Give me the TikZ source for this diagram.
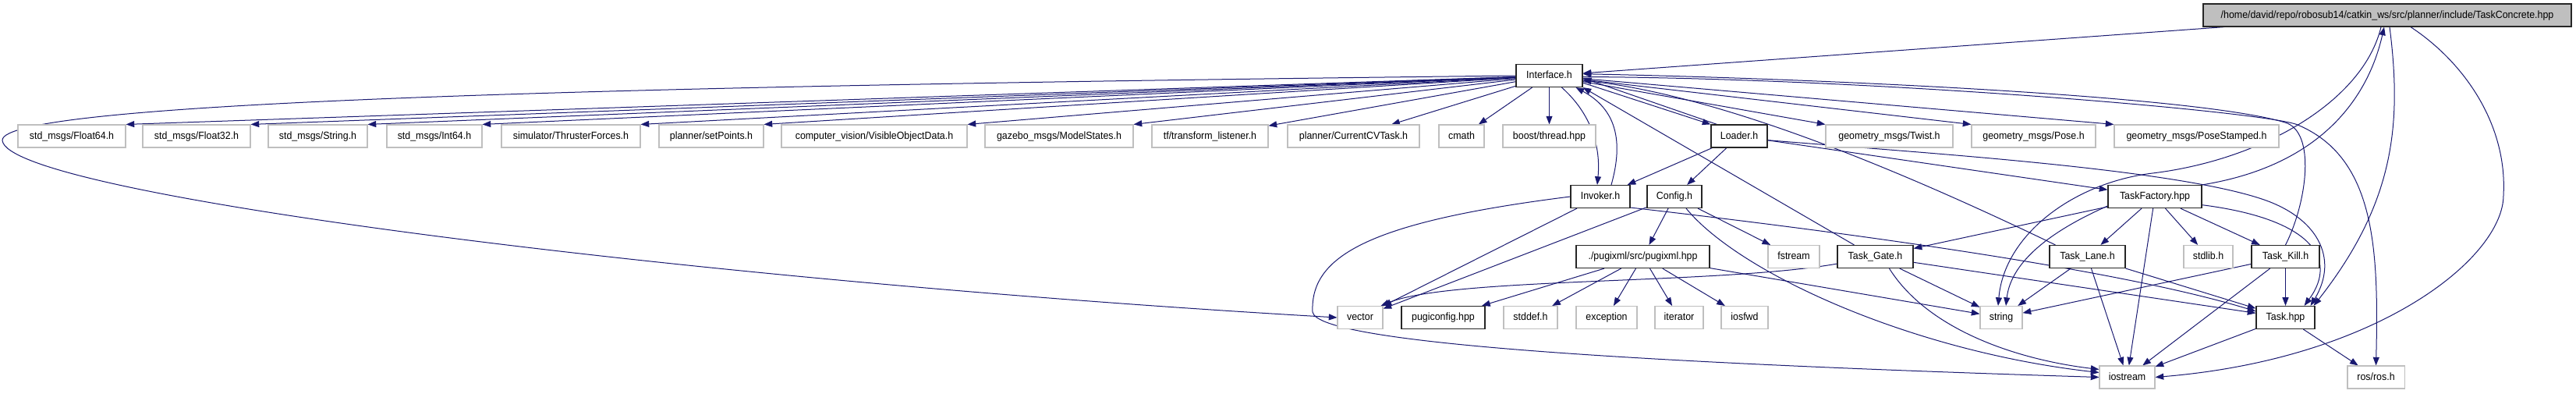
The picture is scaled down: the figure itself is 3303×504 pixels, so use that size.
\documentclass[tikz,border=0pt]{standalone}
\usepackage{fontspec}
\setmainfont{Liberation Sans}[FakeStretch=0.93]
\usetikzlibrary{arrows.meta,calc}
\definecolor{mblue}{HTML}{191970}
\pgfdeclarelayer{bg}
\pgfsetlayers{bg,main}
\tikzset{
  nbox/.style={rectangle, inner sep=0pt, minimum height=21.75pt, fill=white,
    font=\fontsize{10}{12}\selectfont, text height=7.3pt, text depth=2pt},
  ext/.style={nbox, draw=gray!50, line width=0.8pt},
  doc/.style={nbox, draw=black!85, line width=0.9pt},
  mainnode/.style={nbox, draw=black!85, line width=0.9pt, fill=gray!50},
  bw/.style={minimum width=#1*0.75pt},
  e/.style={draw=mblue, line width=0.75pt, -{Triangle[length=8pt,width=6pt]}},
}
\begin{document}
\begin{tikzpicture}[x=0.75pt,y=-0.75pt]
\useasboundingbox (0,0) rectangle (3303,504);
% row 0
\node[mainnode, bw=472] (TC) at (3061,19.5) {/home/david/repo/robosub14/catkin\_ws/src/planner/include/TaskConcrete.hpp};
% row 1
\node[doc, bw=85] (Interface) at (1986.5,97) {Interface.h};
% row 2
\node[ext, bw=138] (f64) at (92,174.5) {std\_msgs/Float64.h};
\node[ext, bw=138] (f32) at (252,174.5) {std\_msgs/Float32.h};
\node[ext, bw=127] (str) at (407.5,174.5) {std\_msgs/String.h};
\node[ext, bw=122] (i64) at (557,174.5) {std\_msgs/Int64.h};
\node[ext, bw=178] (thr) at (732,174.5) {simulator/ThrusterForces.h};
\node[ext, bw=134] (setp) at (912,174.5) {planner/setPoints.h};
\node[ext, bw=238] (vis) at (1121,174.5) {computer\_vision/VisibleObjectData.h};
\node[ext, bw=190] (model) at (1358,174.5) {gazebo\_msgs/ModelStates.h};
\node[ext, bw=149] (tf) at (1551.5,174.5) {tf/transform\_listener.h};
\node[ext, bw=169] (cv) at (1735.5,174.5) {planner/CurrentCVTask.h};
\node[ext, bw=58] (cmath) at (1874,174.5) {cmath};
\node[ext, bw=119] (boost) at (1986.5,174.5) {boost/thread.hpp};
\node[doc, bw=72] (Loader) at (2230,174.5) {Loader.h};
\node[ext, bw=163] (twist) at (2422.5,174.5) {geometry\_msgs/Twist.h};
\node[ext, bw=159] (pose) at (2607.5,174.5) {geometry\_msgs/Pose.h};
\node[ext, bw=211] (poses) at (2816.5,174.5) {geometry\_msgs/PoseStamped.h};
% row 3
\node[doc, bw=76] (invoker) at (2052,252) {Invoker.h};
\node[doc, bw=70] (config) at (2147,252) {Config.h};
\node[doc, bw=120] (tfac) at (2763,252) {TaskFactory.hpp};
% row 4
\node[doc, bw=171] (pugi) at (2106.5,329) {./pugixml/src/pugixml.hpp};
\node[ext, bw=66] (fstream) at (2300,329) {fstream};
\node[doc, bw=97] (gate) at (2404.5,329) {Task\_Gate.h};
\node[doc, bw=97] (lane) at (2676.5,329) {Task\_Lane.h};
\node[ext, bw=63] (stdlib) at (2831.5,329) {stdlib.h};
\node[doc, bw=87] (kill) at (2930.5,329) {Task\_Kill.h};
% row 5
\node[ext, bw=58] (vector) at (1744,407) {vector};
\node[doc, bw=107] (pcfg) at (1850.5,407) {pugiconfig.hpp};
\node[ext, bw=69] (stddef) at (1962.5,407) {stddef.h};
\node[ext, bw=78] (exc) at (2060,407) {exception};
\node[ext, bw=62] (iter) at (2153,407) {iterator};
\node[ext, bw=60] (iosfwd) at (2237,407) {iosfwd};
\node[ext, bw=54] (string) at (2566,407) {string};
\node[doc, bw=75] (task) at (2930.5,407) {Task.hpp};
% row 6
\node[ext, bw=71] (iostream) at (2727.5,483.5) {iostream};
\node[ext, bw=73] (ros) at (3046.5,483.5) {ros/ros.h};
% waypoints
\coordinate (wV) at (3,180);
\coordinate (wA) at (2946,160);
\coordinate (wB) at (2930,157);
\coordinate (wG) at (2900,255);
\coordinate (wI) at (1683,400);
\coordinate (wF) at (2760,222);
\coordinate (wD) at (3210,250);
\begin{pgfonlayer}{bg}
% Interface -> row 2
\foreach \t in {f64,f32,str,i64,thr,setp,vis,model}
  \draw[e] (Interface) -- (\t.north east);
\foreach \t in {tf,cv,cmath,boost}
  \draw[e] (Interface) -- (\t);
\foreach \t in {twist,pose,poses}
  \draw[e] (Interface) -- (\t.north west);
% Interface <-> Loader
\draw[e] (Interface.-12) -- (Loader.north west);
\draw[e] ($(Loader.north west)+(8,0)$) -- (Interface.-4);
% TC -> Interface
\draw[e] (TC) -- (Interface);
% Interface <-> Invoker
\draw[e] ($(Interface.south)+(16,0)$) .. controls (2045,150) and (2052,195) .. ($(invoker.north)+(-4,0)$);
\draw[e] ($(invoker.north)+(14,0)$) .. controls (2082,180) and (2072,140) .. ($(Interface.south)+(34,0)$);
% Interface -> vector
\draw[e] (Interface.west) .. controls (800,110) and (0,130) .. (wV) .. controls (10,250) and (900,360) .. (vector.west);
% Interface -> ros
\draw[e] (Interface.-2) .. controls (2400,100) and (2906,143) .. (wA) .. controls (3046,202) and (3050,320) .. (ros.north);
% Task_Kill -> Interface
\draw[e] (kill.north) .. controls (2958,260) and (2970,169) .. (wB) .. controls (2810,121) and (2300,100) .. (Interface.3);
% Task_Lane -> Interface
\draw[e] ($(lane.north west)+(8,0)$) .. controls (2420,210) and (2200,122) .. (Interface.-8);
% Task_Gate -> Interface
\draw[e] ($(gate.north west)+(22,0)$) -- (Interface.south east);
% Loader
\draw[e] (Loader) -- (invoker);
\draw[e] (Loader) -- (config);
\draw[e] (Loader) -- (tfac);
\draw[e] (Loader.-8) .. controls (2450,195) and (2780,215) .. (wG) .. controls (2970,278) and (3000,330) .. ($(task.north east)+(-6,0)$);
% Invoker
\draw[e] (invoker) -- (vector);
\draw[e] (invoker.-20) .. controls (2300,290) and (2700,340) .. ($(task.west)+(0,-8)$);
\draw[e] (invoker.west) .. controls (1750,285) and (1680,330) .. (wI) .. controls (1690,440) and (2100,465) .. (iostream.west);
% Config
\draw[e] (config) -- (pugi);
\draw[e] (config) -- (fstream);
\draw[e] (config) -- (vector);
\draw[e] ($(config.south)+(15,0)$) .. controls (2230,350) and (2450,450) .. ($(iostream.west)+(0,-6)$);
% pugixml
\foreach \t in {pcfg,stddef,exc,iter,iosfwd,string}
  \draw[e] (pugi) -- (\t);
% TaskFactory
\foreach \t in {gate,lane,stdlib,kill,iostream}
  \draw[e] (tfac) -- (\t);
\draw[e] ($(tfac.south west)+(2,-4)$) .. controls (2620,300) and (2578,340) .. ($(string.north)+(6,0)$);
\draw[e] (tfac.-10) .. controls (2960,280) and (3000,330) .. ($(task.north east)+(-14,0)$);
\draw[e] (tfac.north east) .. controls (2990,210) and (3040,110) .. ($(TC.south)+(-4,0)$);
% TaskConcrete
\draw[e] ($(TC.south)+(-8,0)$) .. controls (3030,130) and (2900,205) .. (wF) .. controls (2660,234) and (2570,300) .. ($(string.north)+(-4,0)$);
\draw[e] ($(TC.south)+(3,0)$) .. controls (3080,160) and (3070,260) .. ($(task.north east)+(-2,0)$);
\draw[e] ($(TC.south)+(30,0)$) .. controls (3160,80) and (3215,160) .. (wD) .. controls (3210,330) and (3050,460) .. (iostream.east);
% Task_Gate
\draw[e] (gate) -- (string);
\draw[e] (gate) -- (task);
\draw[e] ($(gate.south)+(18,0)$) .. controls (2470,420) and (2580,460) .. ($(iostream.west)+(0,-10)$);
\draw[e] ($(gate.south west)+(0,-6)$) .. controls (2200,365) and (1860,355) .. ($(vector.north east)+(-3,0)$);
% Task_Lane
\draw[e] (lane) -- (string);
\draw[e] (lane) -- (iostream);
\draw[e] (lane) -- (task);
% Task_Kill
\draw[e] (kill) -- (string);
\draw[e] (kill) -- (iostream);
\draw[e] (kill) -- (task);
% Task.hpp
\draw[e] (task) -- (iostream);
\draw[e] (task) -- (ros);
\end{pgfonlayer}
\end{tikzpicture}
\end{document}
